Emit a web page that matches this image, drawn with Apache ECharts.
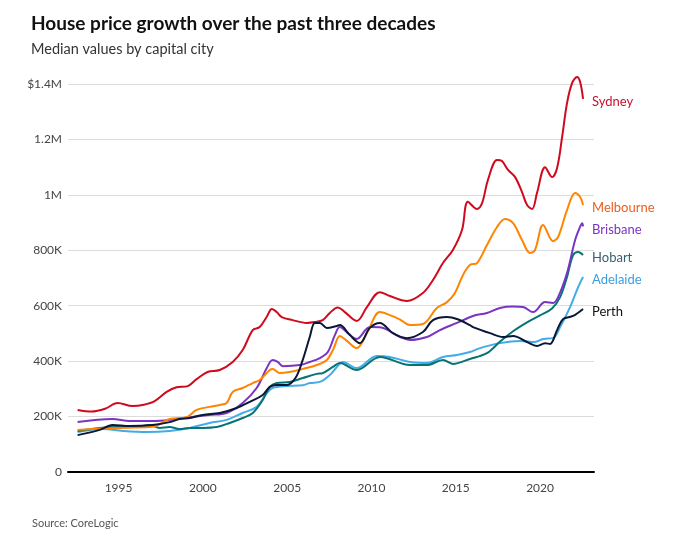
<!DOCTYPE html>
<html>
<head>
<meta charset="utf-8">
<script src="https://cdn.jsdelivr.net/npm/echarts@6/dist/echarts.min.js"></script>
<style>
html,body{margin:0;padding:0;background:#fff;}
#chart{width:677px;height:536px;}
</style>
</head>
<body>
<div id="chart"></div>
<script>
// Values in thousands of dollars, [year, value]
const sydney = [[1992.57,224],[1993.4,218],[1994.2,228],[1994.94,249],[1995.83,238],[1996.5,243],[1997.14,256],[1997.85,289],[1998.44,306],[1999.1,310],[1999.63,335],[2000.28,361],[2001.0,368],[2001.77,397],[2002.36,440],[2002.96,512],[2003.37,523],[2003.79,560],[2004.09,588],[2004.38,577],[2004.68,559],[2005.33,548],[2006.16,538],[2006.64,541],[2007.11,548],[2007.53,574],[2008.0,594],[2008.4,578],[2009.13,545],[2009.73,595],[2010.5,649],[2011.09,635],[2012.1,617],[2013.05,646],[2013.65,693],[2014.24,754],[2014.83,801],[2015.37,873],[2015.72,975],[2016.26,949],[2016.56,970],[2016.91,1054],[2017.45,1126],[2017.74,1122],[2018.1,1090],[2018.52,1064],[2018.93,1010],[2019.23,963],[2019.53,949],[2019.82,1007],[2020.3,1100],[2020.71,1064],[2021.01,1097],[2021.31,1209],[2021.6,1331],[2021.9,1403],[2022.2,1425],[2022.38,1407],[2022.55,1346]];
const melbourne = [[1992.57,152],[1994.0,157],[1995.5,160],[1997.0,163],[1998.03,191],[1999.04,198],[1999.63,224],[2000.4,235],[2001.0,242],[2001.41,249],[2001.77,289],[2002.36,303],[2002.96,321],[2003.37,332],[2003.97,368],[2004.14,372],[2004.56,357],[2005.15,361],[2005.93,372],[2006.76,386],[2007.35,404],[2007.75,445],[2008.12,491],[2008.5,475],[2009.13,447],[2009.73,501],[2010.5,577],[2011.09,566],[2011.7,550],[2012.28,530],[2013.05,534],[2013.88,592],[2014.48,613],[2014.95,646],[2015.43,711],[2015.84,747],[2016.26,754],[2016.85,819],[2017.45,884],[2017.92,913],[2018.4,898],[2018.93,837],[2019.41,790],[2019.7,801],[2020.18,891],[2020.77,833],[2021.07,848],[2021.6,945],[2022.08,1007],[2022.38,992],[2022.55,963]];
const brisbane = [[1992.57,180],[1994.64,191],[1995.65,184],[1997.0,184],[1998.03,188],[1999.22,198],[2000.4,206],[2001.41,213],[2002.36,249],[2003.19,303],[2003.79,375],[2004.14,404],[2004.44,397],[2004.74,382],[2005.75,386],[2006.34,397],[2006.94,411],[2007.41,433],[2007.83,494],[2008.12,523],[2008.6,501],[2009.13,480],[2009.9,523],[2010.5,522],[2011.69,487],[2012.28,476],[2013.29,487],[2014.06,512],[2015.07,538],[2016.02,563],[2016.85,574],[2017.62,592],[2018.4,597],[2018.99,595],[2019.59,577],[2020.3,613],[2020.77,610],[2021.07,631],[2021.6,718],[2022.08,837],[2022.38,885],[2022.5,898],[2022.55,886]];
const hobart = [[1992.57,148],[1993.87,159],[1994.88,162],[1996.07,162],[1996.84,170],[1997.43,159],[1998.03,162],[1998.62,155],[1999.22,159],[1999.99,159],[2000.82,162],[2001.59,177],[2002.36,195],[2002.96,213],[2003.55,260],[2003.97,307],[2004.38,321],[2005.15,325],[2005.93,339],[2006.76,354],[2007.11,357],[2007.71,379],[2008.12,393],[2009.13,368],[2010.5,415],[2012.28,386],[2013.29,386],[2014.24,404],[2014.83,390],[2015.84,408],[2016.85,429],[2017.62,470],[2018.4,508],[2019.23,540],[2020.0,565],[2020.71,590],[2021.19,631],[2021.6,704],[2021.96,783],[2022.26,794],[2022.55,783]];
const adelaide = [[1992.57,144],[1994.05,155],[1995.24,148],[1996.66,144],[1998.03,148],[1999.22,159],[2000.4,177],[2001.41,188],[2002.36,213],[2003.19,235],[2003.79,285],[2004.14,303],[2004.98,310],[2005.93,313],[2006.34,321],[2006.94,325],[2007.53,350],[2007.95,379],[2008.3,397],[2009.13,375],[2010.32,419],[2011.09,415],[2012.28,397],[2013.29,393],[2014.24,415],[2015.07,422],[2015.84,433],[2016.44,447],[2017.62,465],[2018.81,473],[2019.7,469],[2020.18,480],[2020.77,483],[2021.19,523],[2021.78,595],[2022.26,667],[2022.55,704]];
const perth = [[1992.57,133],[1993.87,152],[1994.64,170],[1995.65,166],[1997.02,170],[1998.03,180],[1998.62,191],[1999.22,195],[1999.99,206],[2001.0,213],[2002.01,231],[2002.78,253],[2003.55,278],[2003.97,307],[2004.38,314],[2004.98,314],[2005.5,340],[2005.9,400],[2006.34,487],[2006.64,538],[2006.94,538],[2007.35,520],[2007.95,527],[2008.12,530],[2008.72,494],[2009.31,465],[2009.9,520],[2010.5,538],[2011.27,501],[2012.1,483],[2013.05,505],[2013.65,548],[2014.48,559],[2015.07,552],[2015.84,530],[2016.02,523],[2017.03,501],[2017.8,487],[2018.4,491],[2019.23,469],[2019.82,455],[2020.3,465],[2020.59,462],[2021.01,512],[2021.37,552],[2021.96,563],[2022.55,588]];

const yearTicks = [1995, 2000, 2005, 2010, 2015, 2020];
const titleText = 'House price growth over the past three decades';
const subtitleText = 'Median values by capital city';
const sourceText = 'Source: CoreLogic';

const FONT = 'Lato';

const cities = [
  {name: 'Adelaide', data: adelaide, line: '#45abe6', label: '#3a9fdf'},
  {name: 'Hobart', data: hobart, line: '#087373', label: '#35616e'},
  {name: 'Brisbane', data: brisbane, line: '#7a34c2', label: '#7a34c2'},
  {name: 'Melbourne', data: melbourne, line: '#ff8500', label: '#ea5f1c'},
  {name: 'Sydney', data: sydney, line: '#d00a1e', label: '#c8102e'},
  {name: 'Perth', data: perth, line: '#0b1736', label: '#111111'}
];

const chart = echarts.init(document.getElementById('chart'), null, {renderer: 'canvas'});
chart.setOption({
  animation: false,
  backgroundColor: '#fff',
  textStyle: {fontFamily: FONT},
  title: [
    {text: titleText, left: 26, top: 9, textStyle: {fontFamily: FONT, fontSize: 19, fontWeight: 'bold', color: '#111'}},
    {text: subtitleText, left: 26, top: 37, textStyle: {fontFamily: FONT, fontSize: 14.5, fontWeight: 'normal', color: '#333'}},
    {text: sourceText, left: 27, top: 513, textStyle: {fontFamily: FONT, fontSize: 11, fontWeight: 'normal', color: '#555'}}
  ],
  grid: {left: 68, right: 83, top: 84, bottom: 64, containLabel: false},
  xAxis: {
    type: 'value', min: 1992, max: 2023.2,
    axisLine: {show: true, lineStyle: {color: '#000', width: 2}},
    axisTick: {show: false},
    splitLine: {show: false},
    axisLabel: {customValues: yearTicks, color: '#444', fontSize: 12, margin: 10, fontFamily: FONT,
      formatter: function (v) { return String(Math.round(v)); }}
  },
  yAxis: {
    type: 'value', min: 0, max: 1400, interval: 200,
    axisLine: {show: false}, axisTick: {show: false},
    splitLine: {lineStyle: {color: '#dcdcdc', width: 1}},
    axisLabel: {
      color: '#444', fontSize: 12, margin: 6, fontFamily: FONT,
      formatter: function (v) {
        if (v === 0) return '0';
        if (v < 1000) return v + 'K';
        if (v === 1400) return '$1.4M';
        return (v / 1000) + 'M';
      }
    }
  },
  series: cities.map(c => ({
    name: c.name, type: 'line', data: c.data, smooth: 0.35, symbol: 'none', clip: false,
    lineStyle: {color: c.line, width: 2},
    itemStyle: {color: c.line},
    emphasis: {disabled: true},
    endLabel: {show: true, formatter: '{a}', color: c.label, fontSize: 13, fontFamily: FONT, distance: 9, offset: [0, 3]}
  }))
});
</script>
</body>
</html>
